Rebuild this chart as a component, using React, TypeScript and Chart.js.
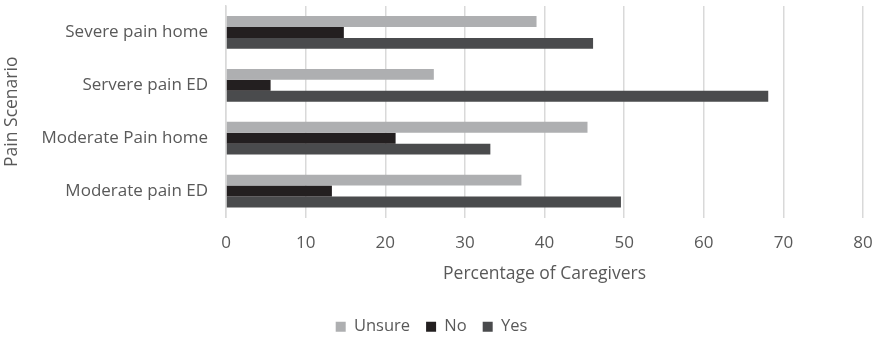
import React, { useEffect, useRef } from "react";
import { Chart, registerables } from "chart.js";

Chart.register(...registerables);

const categories = ["Severe pain home", "Servere pain ED", "Moderate Pain home", "Moderate pain ED"];
const unsureValues = [39.0, 26.1, 45.4, 37.1];
const noValues = [14.8, 5.6, 21.3, 13.3];
const yesValues = [46.1, 68.1, 33.2, 49.6];
const xTicks = [0, 10, 20, 30, 40, 50, 60, 70, 80];

const FONT = "'Open Sans', sans-serif";
const TEXT = "#595959";

export default function App() {
  const ref = useRef<HTMLCanvasElement | null>(null);
  useEffect(() => {
    if (!ref.current) return;
    const chart = new Chart(ref.current, {
      type: "bar",
      data: {
        labels: categories,
        datasets: [
          { label: "Unsure", data: unsureValues, backgroundColor: "#AEAFB1", categoryPercentage: 0.62, barPercentage: 1 },
          { label: "No", data: noValues, backgroundColor: "#231F20", categoryPercentage: 0.62, barPercentage: 1 },
          { label: "Yes", data: yesValues, backgroundColor: "#4A4B4D", categoryPercentage: 0.62, barPercentage: 1 },
        ],
      },
      options: {
        indexAxis: "y",
        animation: false,
        responsive: false,
        maintainAspectRatio: false,
        layout: { padding: { top: 6, right: 11, left: 0, bottom: -5 } },
        plugins: {
          tooltip: { enabled: false },
          legend: {
            position: "bottom",
            labels: {
              font: { family: FONT, size: 16.5 },
              color: TEXT,
              boxWidth: 10,
              boxHeight: 10,
              padding: 16,
            },
          },
        },
        scales: {
          x: {
            min: 0,
            max: 80,
            afterBuildTicks: (s: any) => {
              s.ticks = xTicks.map((v) => ({ value: v }));
            },
            grid: { color: "#D9D9D9", lineWidth: 1.5, drawTicks: false },
            border: { display: false },
            ticks: { font: { family: FONT, size: 17 }, color: TEXT, padding: 15 },
            title: {
              display: true,
              text: "Percentage of Caregivers",
              font: { family: FONT, size: 17.5 },
              color: TEXT,
              padding: { top: 8, bottom: 18 },
            },
            afterFit: (s: any) => {
              s.paddingLeft = 0;
              s.paddingRight = 0;
              s.height = 85;
            },
          },
          y: {
            grid: { display: false, drawTicks: false },
            border: { display: true, color: "#D9D9D9", width: 1.5 },
            ticks: { font: { family: FONT, size: 17 }, color: TEXT, padding: 18 },
            title: {
              display: true,
              text: "Pain Scenario",
              font: { family: FONT, size: 17.5 },
              color: TEXT,
              padding: { top: 2, bottom: 6 },
            },
            afterFit: (s: any) => {
              s.width = 226;
              s.paddingTop = 0;
              s.paddingBottom = 0;
            },
          },
        },
      },
    });
    return () => chart.destroy();
  }, []);
  return (
    <div style={{ position: "fixed", left: 0, top: 0, width: 874, height: 340, background: "#fff" }}>
      <canvas ref={ref} width={874} height={340} />
    </div>
  );
}
